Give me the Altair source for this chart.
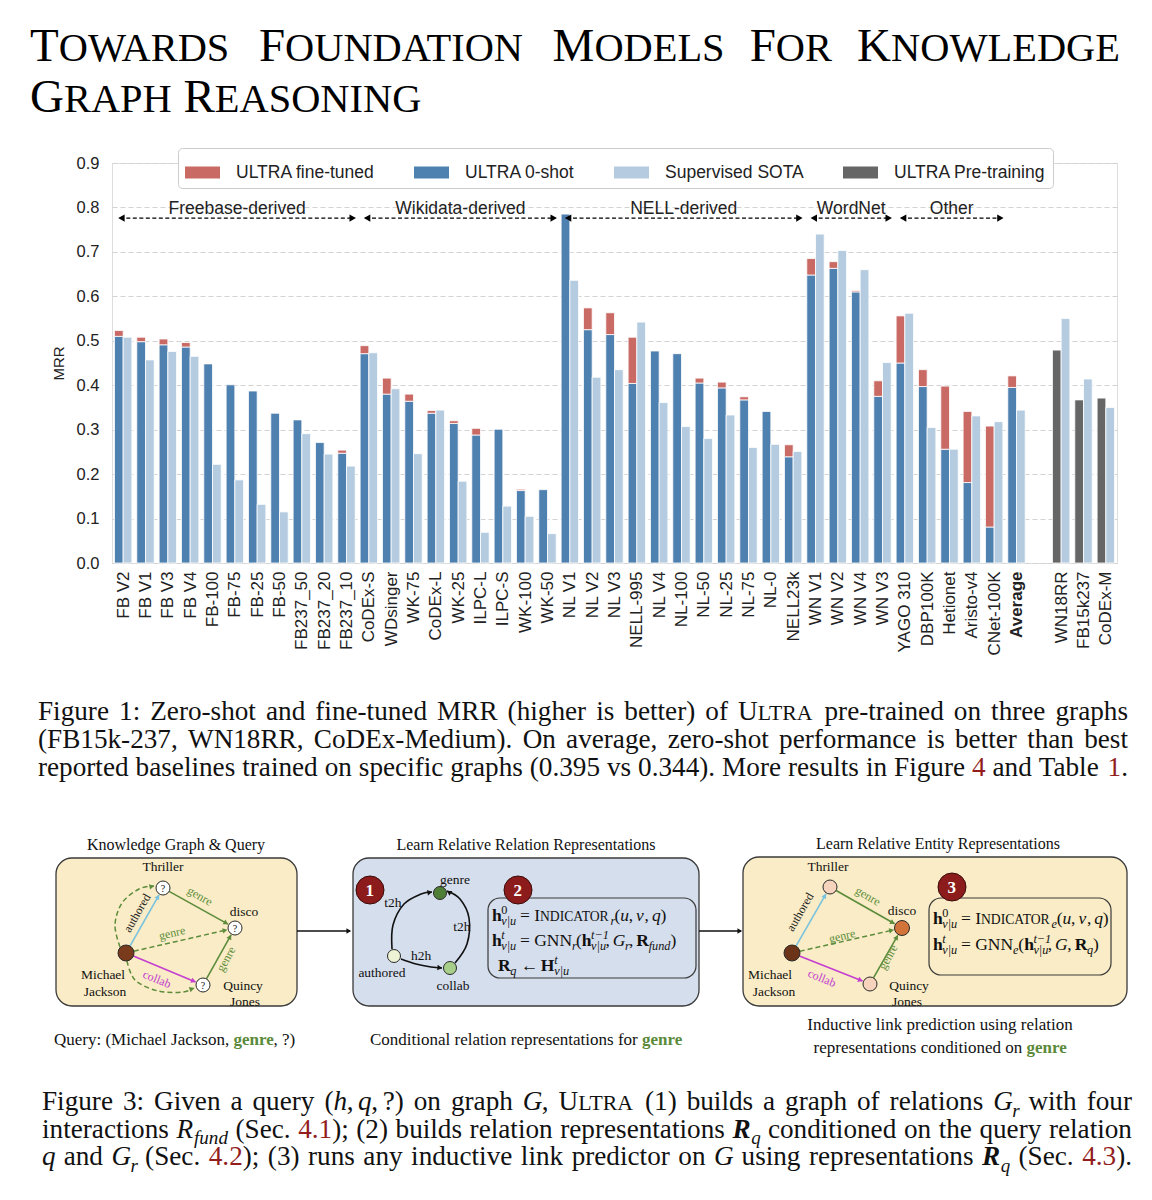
import json
import math
import altair as alt
import pandas as pd

# ----------------------------- chart values -----------------------------
categories = ["FB V2", "FB V1", "FB V3", "FB V4", "FB-100", "FB-75", "FB-25", "FB-50",
              "FB237_50", "FB237_20", "FB237_10", "CoDEx-S", "WDsinger", "WK-75", "CoDEx-L",
              "WK-25", "ILPC-L", "ILPC-S", "WK-100", "WK-50", "NL V1", "NL V2", "NL V3",
              "NELL-995", "NL V4", "NL-100", "NL-50", "NL-25", "NL-75", "NL-0", "NELL23k",
              "WN V1", "WN V2", "WN V4", "WN V3", "YAGO 310", "DBP100K", "Hetionet",
              "Aristo-v4", "CNet-100K", "Average"]
zero_shot = [0.510, 0.498, 0.491, 0.486, 0.448, 0.401, 0.387, 0.337, 0.322, 0.271, 0.247,
             0.471, 0.380, 0.364, 0.337, 0.314, 0.288, 0.301, 0.163, 0.165, 0.785, 0.525,
             0.514, 0.404, 0.477, 0.471, 0.405, 0.394, 0.367, 0.341, 0.239, 0.648, 0.663,
             0.610, 0.375, 0.450, 0.397, 0.256, 0.181, 0.081, 0.395]
fine_tuned = [0.523, 0.508, 0.504, 0.496, None, None, None, None, None, None, 0.254,
              0.489, 0.416, 0.380, 0.343, 0.320, 0.303, None, 0.166, None, None, 0.574,
              0.563, 0.508, None, None, 0.416, 0.407, 0.374, None, 0.266, 0.685, 0.678,
              0.613, 0.410, 0.556, 0.435, 0.398, 0.341, 0.308, 0.421]
supervised_sota = [0.508, 0.457, 0.476, 0.465, 0.222, 0.187, 0.132, 0.115, 0.291, 0.245, 0.218,
                   0.473, 0.392, 0.246, 0.344, 0.184, 0.069, 0.128, 0.105, 0.066, 0.636, 0.418,
                   0.435, 0.542, 0.361, 0.307, 0.280, 0.333, 0.260, 0.267, 0.251, 0.740, 0.703,
                   0.660, 0.451, 0.562, 0.305, 0.256, 0.331, 0.318, 0.344]
pretrain_graphs = ["WN18RR", "FB15k237", "CoDEx-M"]
pretrain_mrr = [0.479, 0.367, 0.371]
pretrain_sota = [0.550, 0.414, 0.350]

series_names = ["ULTRA fine-tuned", "ULTRA 0-shot", "Supervised SOTA", "ULTRA Pre-training"]
series_colors = ["#c96a65", "#4f81b0", "#b5cce0", "#666666"]

group_names = ["Freebase-derived", "Wikidata-derived", "NELL-derived", "WordNet", "Other"]
group_first = ["FB V2", "CoDEx-S", "NL V1", "WN V1", "YAGO 310"]
group_last = ["FB237_10", "WK-50", "NELL23k", "WN V3", "CNet-100K"]

y_ticks = [round(k * 0.1, 1) for k in range(10)]

# ----------------------------- page geometry -----------------------------
PLOT_W, PLOT_H = 1005, 400
PAD = {"left": 104, "top": 155, "right": 27, "bottom": 629}
ORG_X = 8 + PAD["left"]
BOT_Y = 8 + PAD["top"] + PLOT_H
n_slots = len(categories) + 1 + len(pretrain_graphs)
SLOT = PLOT_W / n_slots
Y_TOP = 0.9
YU = PLOT_H / Y_TOP


def ux(px):
    return (px - ORG_X) / SLOT - 0.5


def uy(py):
    return (BOT_Y - py) / YU


x_scale = alt.Scale(domain=[-0.5, n_slots - 0.5], nice=False, zero=False)
y_scale = alt.Scale(domain=[0, Y_TOP], nice=False, zero=False)

slot_labels = categories + [""] + pretrain_graphs
offset = len(categories) + 1
tick_pos = list(range(len(categories))) + [offset + j for j in range(len(pretrain_graphs))]
avg_idx = categories.index("Average")

x_axis = alt.Axis(values=tick_pos, labelExpr=json.dumps(slot_labels) + "[round(datum.value)]",
                  labelAngle=270, labelAlign="right", labelBaseline="middle", labelPadding=8,
                  labelFontSize=17, labelFont="Liberation Sans", labelColor="#222222",
                  labelFontWeight={"condition": {"test": f"datum.value == {avg_idx}", "value": "bold"},
                                   "value": "normal"},
                  labelOverlap=False, labelFlush=False, labelBound=False,
                  ticks=False, domain=False, grid=False, title=None)
y_axis = alt.Axis(values=y_ticks, format=".1f", labelFontSize=16.5, labelFont="Liberation Sans",
                  labelColor="#222222", labelPadding=13, ticks=False, domain=False, grid=True,
                  gridColor="#d2d2d2", gridDash=[5, 3], gridWidth=1, labelOverlap=False,
                  title="MRR", titleFont="Liberation Sans", titleFontSize=15,
                  titleFontWeight="normal", titleColor="#222222", titlePadding=10)


def XY(xf="X", yf="Y"):
    return dict(x=alt.X(f"{xf}:Q", scale=x_scale, axis=x_axis),
                y=alt.Y(f"{yf}:Q", scale=y_scale, axis=y_axis))


# ----------------------------- bars -----------------------------
half = 0.39
bar_rows = []
for i, c in enumerate(categories):
    bar_rows.append(dict(cat=c, series="ULTRA 0-shot", X=i - half, X2=i, Y=0.0, Y2=zero_shot[i]))
    if fine_tuned[i] is not None:
        bar_rows.append(dict(cat=c, series="ULTRA fine-tuned", X=i - half, X2=i,
                             Y=zero_shot[i], Y2=fine_tuned[i]))
    bar_rows.append(dict(cat=c, series="Supervised SOTA", X=i, X2=i + half, Y=0.0,
                         Y2=supervised_sota[i]))
for j, c in enumerate(pretrain_graphs):
    p = offset + j
    bar_rows.append(dict(cat=c, series="ULTRA Pre-training", X=p - half, X2=p, Y=0.0,
                         Y2=pretrain_mrr[j]))
    bar_rows.append(dict(cat=c, series="Supervised SOTA", X=p, X2=p + half, Y=0.0,
                         Y2=pretrain_sota[j]))
bar_df = pd.DataFrame(bar_rows)

legend = alt.Legend(title=None, orient="none", legendX=66, legendY=-15, direction="horizontal",
                    symbolType="M-1,-0.34H1V0.34H-1Z", symbolSize=1225, symbolStrokeWidth=0,
                    symbolOpacity=1, labelFont="Liberation Sans", labelFontSize=17.5,
                    labelColor="#222222", labelOffset=16, columnPadding=39, padding=7,
                    strokeColor="#cccccc", fillColor="white", cornerRadius=4, labelLimit=400)

bars = alt.Chart(bar_df).mark_bar(stroke="white", strokeWidth=0.8).encode(
    x2="X2:Q", y2="Y2:Q",
    color=alt.Color("series:N", scale=alt.Scale(domain=series_names, range=series_colors),
                    legend=legend),
    **XY(),
)

# ----------------------------- group arrows -----------------------------
grp_rows, grp_heads = [], []
for name, a, b in zip(group_names, group_first, group_last):
    i0, i1 = categories.index(a) - 0.15, categories.index(b) + 0.35
    grp_rows.append(dict(name=name, xs=i0, xe=i1, xm=(i0 + i1) / 2, ya=0.776, yl=0.797))
    grp_heads.append(dict(X=i0 + 0.12, Y=0.776, ang=270))
    grp_heads.append(dict(X=i1 - 0.12, Y=0.776, ang=90))
grp_df = pd.DataFrame(grp_rows)
grp_lines = alt.Chart(grp_df).mark_rule(color="black", strokeDash=[4, 2.5], strokeWidth=1.4).encode(
    x2="xe:Q", **XY("xs", "ya"))
grp_tri = alt.Chart(pd.DataFrame(grp_heads)).mark_point(
    shape="triangle", filled=True, color="black", size=55, opacity=1).encode(
    angle=alt.Angle("ang:Q", scale=None), **XY())
grp_text = alt.Chart(grp_df).mark_text(font="Liberation Sans", fontSize=17.5, color="#222222",
                                       align="center", baseline="middle").encode(
    text="name:N", **XY("xm", "yl"))

# ----------------------------- serif typesetting -----------------------------
ROMAN = {}
for ch, w in zip(" !\"#$%&'()*+,-./", [250, 333, 408, 500, 500, 833, 778, 180, 333, 333, 500,
                                         564, 250, 333, 250, 278]):
    ROMAN[ch] = w
for ch in "0123456789":
    ROMAN[ch] = 500
for ch, w in zip(":;<=>?@", [278, 278, 564, 564, 564, 444, 921]):
    ROMAN[ch] = w
for ch, w in zip("ABCDEFGHIJKLMNOPQRSTUVWXYZ",
                 [722, 667, 667, 722, 611, 556, 722, 722, 333, 389, 722, 611, 889, 722, 722,
                  556, 722, 667, 556, 611, 722, 722, 944, 722, 722, 611]):
    ROMAN[ch] = w
for ch, w in zip("abcdefghijklmnopqrstuvwxyz",
                 [444, 500, 444, 500, 444, 333, 500, 500, 278, 278, 500, 278, 778, 500, 500,
                  500, 500, 333, 389, 278, 500, 500, 722, 500, 500, 444]):
    ROMAN[ch] = w
for ch, w in zip("[\\]^_`{|}~", [333, 278, 333, 469, 500, 333, 480, 200, 480, 541]):
    ROMAN[ch] = w
ROMAN["\u2212"] = 564
ROMAN["\u2190"] = 900
STYLE_F = {"r": 1.0, "i": 0.97, "b": 1.06, "bi": 1.03}

BLACK = "#111111"
RED = "#931d1d"
GREEN = "#5a8a3a"
TEXT_ROWS = []


def run(t, st="r", col=BLACK, sc=1.0, dy=0.0, adv=True):
    return [dict(t=t, st=st, col=col, sc=sc, dy=dy, adv=adv)]


def rm(t, col=BLACK):
    return run(t, "r", col)


def it(t, col=BLACK):
    return run(t, "i", col)


def bf(t, col=BLACK):
    return run(t, "b", col)


def bi(t, col=BLACK):
    return run(t, "bi", col)


def sub(t, st="i"):
    return run(t, st, sc=0.7, dy=0.25)


def sup(t, st="i", adv=False):
    return run(t, st, sc=0.7, dy=-0.42, adv=adv)


def smallcaps(text, st="r", col=BLACK, small=0.8):
    out = []
    for k, w in enumerate(text.split(" ")):
        if k:
            out += run(" ", st, col)
        out += run(w[0].upper(), st, col)
        if len(w) > 1:
            out += run(w[1:].upper(), st, col, sc=small)
    return out


def place(runs, x, y, fs, width=None, align="left", justify_min=0.85):
    items = []
    for r in runs:
        parts = r["t"].split(" ")
        for k, p in enumerate(parts):
            if k > 0:
                items.append(("sp", None, r))
            if p:
                pieces = p.split("~")
                for m, q in enumerate(pieces):
                    if m > 0:
                        items.append(("fx", None, r))
                    if q:
                        items.append(("tx", q, r))

    def iw(item):
        kind, q, r = item
        f = fs * r["sc"]
        if kind == "sp":
            return 0.25 * f
        if kind == "fx":
            return 0.17 * f
        if not r["adv"]:
            return 0.0
        return sum(ROMAN.get(c, 560) for c in q) / 1000.0 * f * STYLE_F[r["st"]]

    natural = sum(iw(item) for item in items)
    nsp = sum(1 for item in items if item[0] == "sp")
    extra = 0.0
    if width and nsp and justify_min * width < natural < width:
        extra = (width - natural) / nsp
    cx = x - natural / 2 if align == "center" else x
    for item in items:
        kind, q, r = item
        if kind == "tx":
            TEXT_ROWS.append(dict(text=q, X=ux(cx), Y=uy(y + r["dy"] * fs), fs=fs * r["sc"],
                                  col=r["col"], st=r["st"]))
        cx += iw(item) + (extra if kind == "sp" else 0.0)


# ---- paper title ----
place(smallcaps("Towards Foundation Models for Knowledge", col="#000000", small=0.86), 30, 61, 47,
      width=1090, justify_min=0.7)
place(smallcaps("Graph Reasoning", col="#000000", small=0.86), 30, 112, 47)

# ---- figure 1 caption ----
CAP_FS = 27.2
cap1 = [
    rm("Figure 1: Zero-shot and fine-tuned MRR (higher is better) of ") + smallcaps("Ultra")
    + rm(" pre-trained on three graphs"),
    rm("(FB15k-237, WN18RR, CoDEx-Medium). On average, zero-shot performance is better than best"),
    rm("reported baselines trained on specific graphs (0.395 vs 0.344). More results in Figure ")
    + rm("4", RED) + rm(" and Table ") + rm("1", RED) + rm("."),
]
for k, line in enumerate(cap1):
    place(line, 38, 720 + 28 * k, CAP_FS, width=1090)

# ---- figure 3 caption ----
cap3 = [
    rm("Figure 3: Given a query ") + rm("(") + it("h") + rm(",~") + it("q") + rm(",~?)")
    + rm(" on graph ") + it("G") + rm(", ") + smallcaps("Ultra")
    + rm(" (1) builds a graph of relations ") + it("G") + sub("r") + rm(" with four"),
    rm("interactions ") + it("R") + sub("fund") + rm(" (Sec. ") + rm("4.1", RED)
    + rm("); (2) builds relation representations ") + bi("R") + sub("q")
    + rm(" conditioned on the query relation"),
    it("q") + rm(" and ") + it("G") + sub("r") + rm(" (Sec. ") + rm("4.2", RED)
    + rm("); (3) runs any inductive link predictor on ") + it("G")
    + rm(" using representations ") + bi("R") + sub("q") + rm(" (Sec. ") + rm("4.3", RED)
    + rm(")."),
]
for k, line in enumerate(cap3):
    place(line, 42, 1110 + 27.5 * k, CAP_FS, width=1090)

# ---- figure 3 diagram texts ----
place(rm("Knowledge Graph & Query"), 176, 850, 16, align="center")
place(rm("Learn Relative Relation Representations"), 526, 850, 16, align="center")
place(rm("Learn Relative Entity Representations"), 938, 849, 16, align="center")
place(rm("Query: (Michael Jackson, ") + bf("genre", GREEN) + rm(", ?)"), 54, 1045, 17)
place(rm("Conditional relation representations for ") + bf("genre", GREEN), 526, 1045, 17,
      align="center")
place(rm("Inductive link prediction using relation"), 940, 1030, 17, align="center")
place(rm("representations conditioned on ") + bf("genre", GREEN), 940, 1053, 17, align="center")

node_labels = [("Thriller", 163, 871), ("disco", 244, 916), ("Michael", 103, 979),
               ("Jackson", 105, 996), ("Quincy", 243, 990), ("Jones", 245, 1006),
               ("genre", 455, 884), ("authored", 382, 977), ("collab", 453, 990),
               ("t2h", 393, 907), ("t2h", 462, 931), ("h2h", 421, 960),
               ("Thriller", 828, 871), ("disco", 902, 915), ("Michael", 770, 979),
               ("Jackson", 774, 996), ("Quincy", 909, 990), ("Jones", 907, 1006)]
for t, px, py in node_labels:
    place(rm(t), px, py, 13.5, align="center")
for px, py in [(163, 888), (235, 928), (203, 985)]:
    place(rm("?"), px, py + 3.5, 10, align="center")
for t, px, py in [("1", 370, 890), ("2", 518, 890), ("3", 952, 887)]:
    place(bf(t, "#ffffff"), px, py + 6, 17, align="center")


def h_vu(sup_txt, sup_st="i"):
    return bf("h") + sup(sup_txt, sup_st) + sub("v|u")


f2a = (h_vu("0", "r") + rm(" = ") + smallcaps("Indicator", small=0.78) + sub("r") + rm("(")
       + it("u") + rm(",~") + it("v") + rm(",~") + it("q") + rm(")"))
f2b = (h_vu("t") + rm(" = GNN") + sub("r") + rm("(") + h_vu("t\u22121") + rm(",~") + it("G")
       + sub("r") + rm(",~") + bf("R") + sub("fund") + rm(")"))
f2c = bf("R") + sub("q") + rm(" \u2190 ") + bf("H") + sup("t") + sub("v|u")
f3a = (h_vu("0", "r") + rm(" = ") + smallcaps("Indicator", small=0.78) + sub("e") + rm("(")
       + it("u") + rm(",~") + it("v") + rm(",~") + it("q") + rm(")"))
f3b = (h_vu("t") + rm(" = GNN") + sub("e") + rm("(") + h_vu("t\u22121") + rm(",~") + it("G")
       + rm(",~") + bf("R") + sub("q") + rm(")"))
place(f2a, 492, 921, 17.5)
place(f2b, 492, 946, 17.5)
place(f2c, 498, 971, 17.5)
place(f3a, 933, 924, 17.5)
place(f3b, 933, 950, 17.5)

text_df = pd.DataFrame(TEXT_ROWS)

# ----------------------------- figure 3 shapes -----------------------------
WHEAT = "#f9ecc6"
BLUEGREY = "#d5deec"
GENRE = "#5d8c3c"
AUTH = "#79c3e0"
COLLAB = "#c53fd0"

panels = [(56, 858, 297, 1006, WHEAT), (353, 858, 699, 1006, BLUEGREY),
          (743, 857, 1127, 1006, WHEAT)]
panel_df = pd.DataFrame([dict(X=ux(a), X2=ux(c), Y=uy(b), Y2=uy(d), fill=f)
                         for a, b, c, d, f in panels])
inner_df = pd.DataFrame([dict(X=ux(a), X2=ux(c), Y=uy(b), Y2=uy(d))
                         for a, b, c, d in [(488, 898, 696, 978), (929, 898, 1111, 975)]])

p1 = {"mj": (126, 953, 8, "#7a3a1c"), "thr": (163, 888, 7, "#ffffff"),
      "dis": (235, 928, 7, "#ffffff"), "qj": (203, 985, 7, "#ffffff")}
p3 = {"mj": (792, 953, 8, "#6b3418"), "thr": (830, 887, 7, "#f6d3bd"),
      "dis": (902, 928, 7.5, "#d2733a"), "qj": (870, 984, 7, "#f6d3bd")}
p2 = {"genre": (440, 893, 6.5, "#4f7e37"), "auth": (394, 956, 6.5, "#eef3d6"),
      "coll": (450, 968, 6.5, "#a8cf8a")}
badges = [(370, 890), (518, 890), (952, 887)]

node_rows = []
for d in (p1, p2, p3):
    for px, py, r, f in d.values():
        node_rows.append(dict(X=ux(px), Y=uy(py), s=(2 * r) ** 2, fill=f))
node_df = pd.DataFrame(node_rows)
badge_df = pd.DataFrame([dict(X=ux(px), Y=uy(py)) for px, py in badges])

rules, dashed, heads, curves, dcurves = [], [], [], [], []


def add_head(px, py, vx, vy, col):
    ang = math.degrees(math.atan2(vx, -vy)) % 360
    heads.append(dict(X=ux(px), Y=uy(py), ang=ang, col=col))


def edge(a, b, col, dash=False, head=True):
    ax, ay, ar = a[0], a[1], a[2]
    bx, by, br = b[0], b[1], b[2]
    L = math.hypot(bx - ax, by - ay)
    vx, vy = (bx - ax) / L, (by - ay) / L
    row = dict(X=ux(ax + vx * ar), Y=uy(ay + vy * ar), X2=ux(bx - vx * (br + 1)),
               Y2=uy(by - vy * (br + 1)), col=col)
    (dashed if dash else rules).append(row)
    if head:
        add_head(bx - vx * (br + 4), by - vy * (br + 4), vx, vy, col)


def curve(pts, col, dash=False):
    target = dcurves if dash else curves
    cid = len(curves) + len(dcurves)
    for k, (px, py) in enumerate(pts):
        target.append(dict(id=cid, k=k, X=ux(px), Y=uy(py), col=col))
    (x0, y0), (x1, y1) = pts[-2], pts[-1]
    L = math.hypot(x1 - x0, y1 - y0)
    vx, vy = (x1 - x0) / L, (y1 - y0) / L
    add_head(x1 - vx * 3, y1 - vy * 3, vx, vy, col)


for d in (p1, p3):
    edge(d["mj"], d["thr"], AUTH)
    edge(d["thr"], d["dis"], GENRE)
    edge(d["mj"], d["qj"], COLLAB)
    edge(d["qj"], d["dis"], GENRE)
    edge(d["mj"], d["dis"], GENRE, dash=True)
curve([(120, 947), (115, 925), (122, 903), (139, 889), (154, 886)], GENRE, dash=True)
curve([(127, 961), (135, 980), (158, 991), (183, 992), (194, 988)], GENRE, dash=True)
curve([(392, 949), (393, 925), (404, 904), (421, 894), (432, 892)], "#111111")
curve([(455, 963), (467, 944), (469, 918), (460, 899), (447, 891)], "#111111")
curve([(401, 959), (416, 964), (431, 967), (442, 968)], "#111111")

# arrows between panels
for x0, x1 in [(297, 352), (699, 743)]:
    rules.append(dict(X=ux(x0), Y=uy(931), X2=ux(x1 - 2), Y2=uy(931), col="#111111"))
    add_head(x1 - 4, 931, 1, 0, "#111111")

edge_labels = [("authored", 137, 913, 300, "#222222"), ("genre", 200, 896, 30, GENRE),
               ("genre", 172, 933, 347, GENRE), ("collab", 157, 979, 22, COLLAB),
               ("genre", 226, 959, 299, GENRE),
               ("authored", 800, 912, 300, "#222222"), ("genre", 868, 896, 30, GENRE),
               ("genre", 842, 936, 347, GENRE), ("collab", 822, 978, 22, COLLAB),
               ("genre", 888, 957, 299, GENRE)]
elab_df = pd.DataFrame([dict(text=t, X=ux(px), Y=uy(py), ang=a, col=c)
                        for t, px, py, a, c in edge_labels])

panel_layer = alt.Chart(panel_df).mark_rect(cornerRadius=16, stroke="#3a3a3a",
                                            strokeWidth=1.3).encode(
    x2="X2:Q", y2="Y2:Q", fill=alt.Fill("fill:N", scale=None), **XY())
inner_layer = alt.Chart(inner_df).mark_rect(cornerRadius=12, stroke="#3a3a3a", strokeWidth=1.2,
                                            fillOpacity=0).encode(
    x2="X2:Q", y2="Y2:Q", **XY())
rule_layer = alt.Chart(pd.DataFrame(rules)).mark_rule(strokeWidth=1.6).encode(
    x2="X2:Q", y2="Y2:Q", stroke=alt.Stroke("col:N", scale=None), **XY())
dash_layer = alt.Chart(pd.DataFrame(dashed)).mark_rule(strokeWidth=1.5, strokeDash=[5, 3]).encode(
    x2="X2:Q", y2="Y2:Q", stroke=alt.Stroke("col:N", scale=None), **XY())
curve_layer = alt.Chart(pd.DataFrame(curves)).mark_line(interpolate="cardinal",
                                                        strokeWidth=1.6).encode(
    detail="id:N", order="k:Q", stroke=alt.Stroke("col:N", scale=None), **XY())
dcurve_layer = alt.Chart(pd.DataFrame(dcurves)).mark_line(interpolate="cardinal", strokeWidth=1.5,
                                                          strokeDash=[5, 3]).encode(
    detail="id:N", order="k:Q", stroke=alt.Stroke("col:N", scale=None), **XY())
head_layer = alt.Chart(pd.DataFrame(heads)).mark_point(shape="triangle", filled=True, size=30,
                                                       opacity=1).encode(
    angle=alt.Angle("ang:Q", scale=None), fill=alt.Fill("col:N", scale=None), **XY())
node_layer = alt.Chart(node_df).mark_point(shape="circle", filled=True, stroke="#2a2a2a",
                                           strokeWidth=1, opacity=1).encode(
    size=alt.Size("s:Q", scale=None), fill=alt.Fill("fill:N", scale=None), **XY())
badge_layer = alt.Chart(badge_df).mark_point(shape="circle", filled=True, size=784,
                                             fill="#8c1c1c", stroke="#3a0a0a", strokeWidth=1,
                                             opacity=1).encode(**XY())
elab_layer = alt.Chart(elab_df).mark_text(font="Liberation Serif", fontSize=12, align="center",
                                          baseline="middle").encode(
    text="text:N", angle=alt.Angle("ang:Q", scale=None), fill=alt.Fill("col:N", scale=None), **XY())

text_layers = []
for st in ["r", "i", "b", "bi"]:
    sub_df = text_df[text_df["st"] == st]
    if len(sub_df) == 0:
        continue
    text_layers.append(
        alt.Chart(sub_df).mark_text(font="Liberation Serif", align="left", baseline="alphabetic",
                                    fontStyle="italic" if "i" in st else "normal",
                                    fontWeight="bold" if "b" in st else "normal").encode(
            text="text:N", size=alt.Size("fs:Q", scale=None),
            fill=alt.Fill("col:N", scale=None), **XY()))

chart = alt.layer(
    bars, grp_lines, grp_tri, grp_text,
    panel_layer, inner_layer, rule_layer, dash_layer, curve_layer, dcurve_layer,
    head_layer, node_layer, badge_layer, elab_layer, *text_layers,
).properties(
    width=PLOT_W, height=PLOT_H,
    autosize=alt.AutoSizeParams(type="none"),
    padding=PAD,
).configure_view(stroke="#cccccc", strokeWidth=1.2).configure_axis(
    labelOverlap=False).configure(background="white")

chart.save("out.html", embed_options={"renderer": "svg", "actions": False})
